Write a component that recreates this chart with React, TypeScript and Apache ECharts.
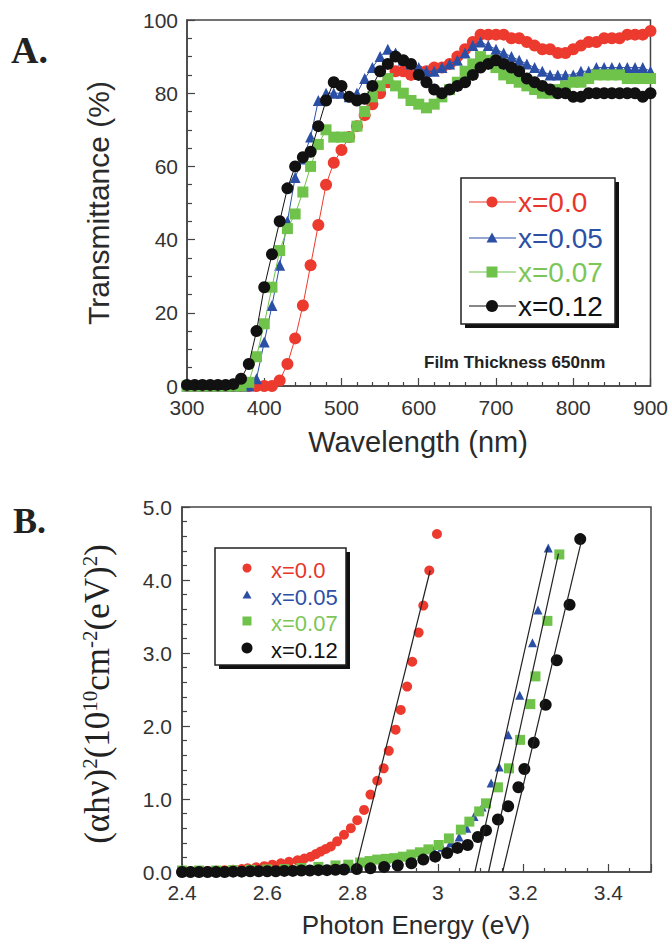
import React, { useEffect, useRef } from 'react';
import * as echarts from 'echarts';

// ---------- Panel A: transmittance vs wavelength ----------
const wavelength = [300, 310, 320, 330, 340, 350, 360, 370, 380, 390, 400, 410, 420, 430, 440, 450, 460, 470, 480, 490, 500, 510, 520, 530, 540, 550, 560, 570, 580, 590, 600, 610, 620, 630, 640, 650, 660, 670, 680, 690, 700, 710, 720, 730, 740, 750, 760, 770, 780, 790, 800, 810, 820, 830, 840, 850, 860, 870, 880, 890, 900];
const transX000 = [0, 0, 0, 0, 0, 0, 0, 0, 0, 0, 0, 0, 1.5, 6, 13, 22, 33, 44, 55, 61, 64.5, 68, 71, 74, 77, 80, 83, 86, 86, 85, 86, 86, 87, 87, 88, 90, 92, 94, 96, 96, 96, 96, 95, 95, 94, 93, 92, 92, 91, 91, 92, 93, 94, 94, 95, 95, 95, 96, 96, 96, 97];
const transX005 = [0, 0, 0, 0, 0, 0, 0, 0, 0, 2, 12, 22, 33, 45, 57, 62, 68, 78, 80, 80, 80, 79, 80, 84, 87, 90, 92, 91, 89, 88, 87, 86, 86, 87, 88, 89, 91, 93, 94, 93, 92, 91, 90, 89, 88, 87, 86, 85, 85, 85, 85, 86, 86, 87, 87, 87, 87, 87, 87, 87, 86];
const transX007 = [0, 0, 0, 0, 0, 0, 0, 0, 1, 8, 17, 27, 37, 43, 47, 53, 60, 66, 70, 68, 68, 68, 71, 75, 79, 82, 84, 82, 80, 78, 77, 76, 77, 79, 81, 83, 86, 88, 90, 89, 87, 85, 84, 83, 82, 81, 80, 80, 81, 82, 83, 83, 84, 85, 85, 85, 85, 84, 84, 84, 84];
const transX012 = [0.3, 0.3, 0.3, 0.3, 0.3, 0.3, 0.5, 2, 6, 15, 27, 36, 45, 54, 60, 62.5, 64, 71, 78, 83, 82, 79, 78, 78.5, 82, 86, 88, 90, 89, 88, 85, 83, 81, 80, 81, 82, 83, 85, 87, 88, 89, 88, 87, 86, 84, 83, 82, 81, 80, 80, 79, 79, 80, 80, 80, 80, 80, 80, 80, 79, 80];

// ---------- Panel B: (alpha h nu)^2 vs photon energy ----------
const energyX000 = [2.40, 2.42, 2.44, 2.46, 2.48, 2.50, 2.52, 2.54, 2.554, 2.574, 2.593, 2.612, 2.632, 2.651, 2.671, 2.687, 2.702, 2.714, 2.725, 2.737, 2.749, 2.764, 2.780, 2.796, 2.811, 2.827, 2.842, 2.858, 2.873, 2.885, 2.901, 2.913, 2.928, 2.940, 2.955, 2.966, 2.980, 2.998];
const absX000 = [0.01, 0.01, 0.01, 0.015, 0.02, 0.025, 0.03, 0.04, 0.05, 0.065, 0.08, 0.10, 0.12, 0.14, 0.16, 0.185, 0.21, 0.245, 0.28, 0.315, 0.35, 0.42, 0.51, 0.60, 0.71, 0.85, 1.06, 1.25, 1.42, 1.66, 1.95, 2.22, 2.54, 2.88, 3.28, 3.65, 4.13, 4.63];
const energyX005 = [2.40, 2.44, 2.48, 2.52, 2.56, 2.60, 2.64, 2.68, 2.72, 2.76, 2.80, 2.84, 2.88, 2.91, 2.94, 2.965, 2.99, 3.01, 3.03, 3.05, 3.068, 3.085, 3.104, 3.125, 3.144, 3.165, 3.192, 3.222, 3.235, 3.259];
const absX005 = [0.01, 0.01, 0.01, 0.015, 0.02, 0.025, 0.03, 0.04, 0.05, 0.065, 0.08, 0.10, 0.13, 0.16, 0.20, 0.24, 0.29, 0.34, 0.40, 0.48, 0.60, 0.76, 0.89, 1.22, 1.44, 1.88, 2.42, 3.14, 3.59, 4.44];
const energyX007 = [2.40, 2.44, 2.48, 2.52, 2.56, 2.60, 2.64, 2.68, 2.72, 2.76, 2.79, 2.818, 2.84, 2.858, 2.878, 2.898, 2.918, 2.938, 2.958, 2.978, 3.002, 3.026, 3.054, 3.074, 3.097, 3.113, 3.141, 3.167, 3.193, 3.217, 3.229, 3.257, 3.285];
const absX007 = [0.02, 0.02, 0.02, 0.025, 0.03, 0.035, 0.04, 0.055, 0.07, 0.09, 0.10, 0.13, 0.15, 0.17, 0.18, 0.19, 0.21, 0.24, 0.27, 0.31, 0.37, 0.46, 0.58, 0.69, 0.83, 0.94, 1.16, 1.42, 1.81, 2.30, 2.68, 3.44, 4.35];
const energyX012 = [2.40, 2.42, 2.44, 2.46, 2.48, 2.50, 2.52, 2.54, 2.56, 2.58, 2.60, 2.62, 2.64, 2.66, 2.68, 2.70, 2.72, 2.74, 2.76, 2.78, 2.81, 2.842, 2.874, 2.906, 2.938, 2.966, 2.994, 3.022, 3.046, 3.070, 3.094, 3.113, 3.141, 3.165, 3.189, 3.203, 3.225, 3.253, 3.279, 3.309, 3.334];
const absX012 = [0, 0, 0, 0, 0, 0, 0.005, 0.005, 0.01, 0.01, 0.01, 0.01, 0.015, 0.015, 0.02, 0.02, 0.025, 0.025, 0.03, 0.035, 0.04, 0.05, 0.07, 0.09, 0.12, 0.17, 0.21, 0.26, 0.33, 0.37, 0.48, 0.57, 0.72, 0.90, 1.16, 1.41, 1.77, 2.29, 2.90, 3.66, 4.56];
// linear fits (start / end points)
const fitEnergy = [[2.808, 2.982], [3.087, 3.258], [3.119, 3.283], [3.152, 3.337]];
const fitAbs = [[0.05, 4.13], [0, 4.45], [0, 4.36], [0, 4.54]];

const seriesNames = ['x=0.0', 'x=0.05', 'x=0.07', 'x=0.12'];
const xTicksA = [300, 400, 500, 600, 700, 800, 900];

const RED = '#ec3a2e';
const BLUE = '#2c4fa6';
const GREEN = '#6fc24a';
const BLACK = '#111111';
const LEG_COLORS = ['#e8352b', '#2d4fa5', '#7cc657', '#111111'];
const SANS = '"Liberation Sans", Arial, Helvetica, sans-serif';
const SERIF = '"Liberation Serif", "Times New Roman", serif';

const zip = (a: number[], b: number[]) => a.map((v, i) => [v, b[i]]);

function legendMarker(kind: string, cx: number, cy: number, color: string, s: number) {
  if (kind === 'circle') return { type: 'circle', shape: { cx, cy, r: s / 2 }, style: { fill: color } };
  if (kind === 'triangle')
    return { type: 'polygon', shape: { points: [[cx, cy - s / 2], [cx + s / 2, cy + s / 2 - 1], [cx - s / 2, cy + s / 2 - 1]] }, style: { fill: color } };
  return { type: 'rect', shape: { x: cx - s / 2, y: cy - s / 2, width: s, height: s }, style: { fill: color } };
}

function buildOption() {
  const markerKinds = ['circle', 'triangle', 'rect', 'circle'];
  const colors = [RED, BLUE, GREEN, BLACK];
  const transData = [transX000, transX005, transX007, transX012];
  const sizesA = [12, 11, 11, 12];
  const energyData = [energyX000, energyX005, energyX007, energyX012];
  const absData = [absX000, absX005, absX007, absX012];
  const sizesB = [10, 9, 10, 12];

  const axisLineStyle = { color: '#444', width: 1.5 };
  const tickStyle = { color: '#444', width: 1.2 };

  const series: any[] = [];
  seriesNames.forEach((name, i) => {
    series.push({
      name,
      type: 'line',
      xAxisIndex: 0,
      yAxisIndex: 0,
      data: zip(wavelength, transData[i]),
      symbol: markerKinds[i],
      symbolSize: sizesA[i],
      itemStyle: { color: colors[i] },
      lineStyle: { color: colors[i], width: 1 },
      z: 2 + i,
    });
  });
  seriesNames.forEach((name, i) => {
    series.push({
      name: name + ' (B)',
      type: 'scatter',
      xAxisIndex: 1,
      yAxisIndex: 1,
      data: zip(energyData[i], absData[i]),
      symbol: markerKinds[i],
      symbolSize: sizesB[i],
      itemStyle: { color: colors[i], opacity: 1 },
      z: 2 + i,
    });
  });
  fitEnergy.forEach((e, i) => {
    series.push({
      name: 'fit ' + i,
      type: 'line',
      xAxisIndex: 1,
      yAxisIndex: 1,
      data: zip(e, fitAbs[i]),
      symbol: 'none',
      lineStyle: { color: '#222', width: 1.2 },
      z: 10,
    });
  });

  const graphic: any[] = [];
  // panel letters
  graphic.push({ type: 'text', x: 11, y: 50, style: { text: 'A.', fontFamily: SERIF, fontWeight: 'bold', fontSize: 38, fill: '#222', verticalAlign: 'middle' } });
  graphic.push({ type: 'text', x: 13, y: 521, style: { text: 'B.', fontFamily: SERIF, fontWeight: 'bold', fontSize: 36, fill: '#222', verticalAlign: 'middle' } });
  // axis titles
  graphic.push({ type: 'text', x: 98, y: 203, rotation: Math.PI / 2, style: { text: 'Transmittance (%)', fontFamily: SANS, fontSize: 30, fill: '#2a2a2a', align: 'center', verticalAlign: 'middle' } });
  graphic.push({ type: 'text', x: 418, y: 442, style: { text: 'Wavelength (nm)', fontFamily: SANS, fontSize: 29, fill: '#2a2a2a', align: 'center', verticalAlign: 'middle' } });
  graphic.push({ type: 'text', x: 416, y: 925, style: { text: 'Photon Energy (eV)', fontFamily: SANS, fontSize: 26, fill: '#2a2a2a', align: 'center', verticalAlign: 'middle' } });
  graphic.push({
    type: 'text', x: 97, y: 694, rotation: Math.PI / 2,
    style: {
      text: '{m|(αhν)}{s|2}{m|(10}{s|10}{m|cm}{s|-2}{m|(eV)}{s|2}{m|)}',
      align: 'center', verticalAlign: 'middle', fill: '#222',
      rich: {
        m: { fontFamily: SERIF, fontSize: 35, fill: '#222', lineHeight: 36 },
        s: { fontFamily: SERIF, fontSize: 21, fill: '#222', verticalAlign: 'top', lineHeight: 20 },
      },
    },
  });
  graphic.push({ type: 'text', x: 424, y: 362, style: { text: 'Film Thickness 650nm', fontFamily: SANS, fontWeight: 'bold', fontSize: 17, fill: '#222', verticalAlign: 'middle' } });

  // legend A
  graphic.push({ type: 'rect', shape: { x: 465, y: 182, width: 154, height: 146 }, style: { fill: '#111' }, z: 20 });
  graphic.push({ type: 'rect', shape: { x: 461, y: 178, width: 154, height: 146 }, style: { fill: '#fff', stroke: '#222', lineWidth: 1.5 }, z: 21 });
  const rowsA = [202, 238, 272, 306];
  rowsA.forEach((y, i) => {
    graphic.push({ type: 'line', shape: { x1: 469, y1: y, x2: 516, y2: y }, style: { stroke: colors[i], lineWidth: 1.2 }, z: 22 });
    graphic.push({ ...legendMarker(markerKinds[i], 492, y, colors[i], i === 3 ? 12 : 11), z: 23 });
    graphic.push({ type: 'text', x: 518, y, style: { text: seriesNames[i], fontFamily: SANS, fontSize: 28, fill: LEG_COLORS[i], verticalAlign: 'middle' }, z: 23 });
  });

  // legend B
  graphic.push({ type: 'rect', shape: { x: 219, y: 552, width: 131, height: 117 }, style: { fill: '#111' }, z: 20 });
  graphic.push({ type: 'rect', shape: { x: 215, y: 548, width: 131, height: 117 }, style: { fill: '#fff', stroke: '#222', lineWidth: 1.5 }, z: 21 });
  const rowsB = [570, 597, 623, 650];
  rowsB.forEach((y, i) => {
    graphic.push({ ...legendMarker(markerKinds[i], 247, y - 2, colors[i], i === 3 ? 11 : 9), z: 23 });
    graphic.push({ type: 'text', x: 271, y, style: { text: seriesNames[i], fontFamily: SANS, fontSize: 22, fill: LEG_COLORS[i], verticalAlign: 'middle' }, z: 23 });
  });

  return {
    animation: false,
    backgroundColor: '#fff',
    textStyle: { fontFamily: SANS },
    grid: [
      { left: 187, top: 20, width: 464, height: 366, show: true, borderColor: '#444', borderWidth: 1.5, backgroundColor: 'transparent' },
      { left: 182, top: 507, width: 469, height: 365, show: true, borderColor: '#444', borderWidth: 1.5, backgroundColor: 'transparent' },
    ],
    xAxis: [
      {
        type: 'value', gridIndex: 0, min: 300, max: 900, interval: 100,
        axisLine: { show: true, onZero: false, lineStyle: axisLineStyle },
        axisTick: { show: true, inside: true, length: 8, lineStyle: tickStyle },
        minorTick: { show: true, splitNumber: 5, length: 4, lineStyle: tickStyle },
        splitLine: { show: false },
        axisLabel: { fontSize: 21, color: '#333', margin: 11, formatter: (v: number) => (xTicksA.includes(v) ? String(v) : '') },
      },
      {
        type: 'value', gridIndex: 1, min: 2.4, max: 3.5, interval: 0.2,
        axisLine: { show: true, onZero: false, lineStyle: axisLineStyle },
        axisTick: { show: true, inside: true, length: 8, lineStyle: tickStyle },
        minorTick: { show: true, splitNumber: 4, length: 4, lineStyle: tickStyle },
        splitLine: { show: false },
        axisLabel: { fontSize: 21, color: '#333', margin: 10, showMaxLabel: false, formatter: (v: number) => String(Number(v.toFixed(1))) },
      },
    ],
    yAxis: [
      {
        type: 'value', gridIndex: 0, min: 0, max: 100, interval: 20,
        axisLine: { show: true, onZero: false, lineStyle: axisLineStyle },
        axisTick: { show: true, inside: true, length: 8, lineStyle: tickStyle },
        minorTick: { show: true, splitNumber: 4, length: 5, lineStyle: tickStyle },
        splitLine: { show: false },
        axisLabel: { fontSize: 21, color: '#333', margin: 9 },
      },
      {
        type: 'value', gridIndex: 1, min: 0, max: 5, interval: 1,
        axisLine: { show: true, onZero: false, lineStyle: axisLineStyle },
        axisTick: { show: true, inside: true, length: 8, lineStyle: tickStyle },
        minorTick: { show: true, splitNumber: 5, length: 5, lineStyle: tickStyle },
        splitLine: { show: false },
        axisLabel: { fontSize: 21, color: '#333', margin: 10, formatter: (v: number) => v.toFixed(1) },
      },
    ],
    series,
    graphic,
  };
}

export default function App() {
  const ref = useRef<HTMLDivElement>(null);
  useEffect(() => {
    if (!ref.current) return;
    const chart = echarts.init(ref.current, null, { renderer: 'svg' });
    chart.setOption(buildOption() as any);
    return () => chart.dispose();
  }, []);
  return (
    <div
      ref={ref}
      style={{ position: 'absolute', left: 0, top: 0, width: 671, height: 942, background: '#fff' }}
    />
  );
}
